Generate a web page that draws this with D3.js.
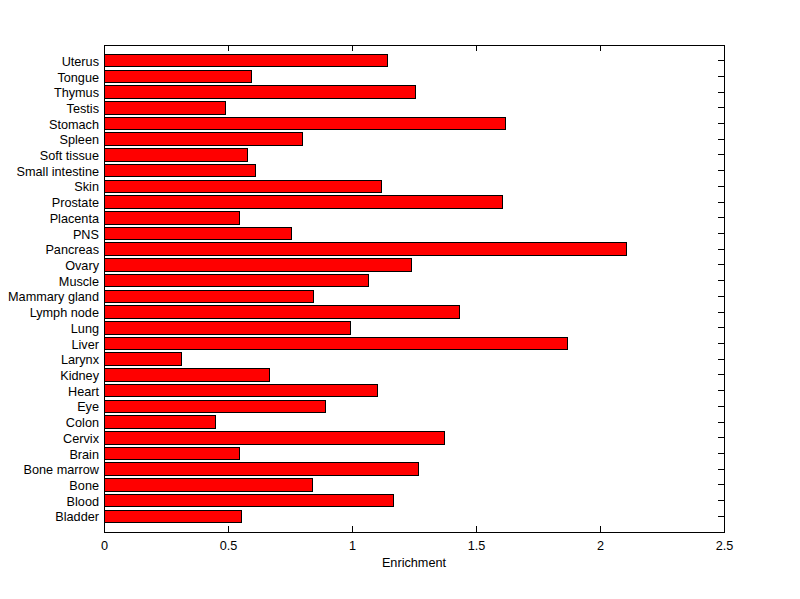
<!DOCTYPE html>
<html>
<head>
<meta charset="utf-8">
<script src="https://cdn.jsdelivr.net/npm/d3@7"></script>
<style>
  body { margin: 0; background: #fff; }
  svg { display: block; }
  text { font-family: "Liberation Sans", Arial, sans-serif; fill: #000; }
</style>
</head>
<body>
<div id="chart"></div>
<script>
"use strict";

// Tissues, bottom to top as drawn
const tissues = ["Bladder", "Blood", "Bone", "Bone marrow", "Brain", "Cervix", "Colon",
  "Eye", "Heart", "Kidney", "Larynx", "Liver", "Lung", "Lymph node", "Mammary gland",
  "Muscle", "Ovary", "Pancreas", "PNS", "Placenta", "Prostate", "Skin", "Small intestine",
  "Soft tissue", "Spleen", "Stomach", "Testis", "Thymus", "Tongue", "Uterus"];

const enrichment = [0.555, 1.167, 0.841, 1.269, 0.547, 1.373, 0.450,
  0.894, 1.103, 0.667, 0.313, 1.869, 0.994, 1.434, 0.845,
  1.067, 1.241, 2.107, 0.756, 0.547, 1.607, 1.119, 0.612,
  0.579, 0.800, 1.620, 0.490, 1.256, 0.595, 1.143];

const xTicks = [0, 0.5, 1, 1.5, 2, 2.5];
const xLabel = "Enrichment";

const width = 800, height = 599;
const mLeft = 104, mRight = 724, mTop = 45, mBottom = 532;
const tickLen = 6;
const fontSize = "12.7px";

let svg = d3.select("#chart").append("svg")
  .attr("width", width)
  .attr("height", height);

let x = d3.scaleLinear().domain([0, 2.5]).range([mLeft, mRight]);
let y = d3.scaleBand()
  .domain(tissues.slice().reverse())
  .range([mTop, mBottom])
  .paddingInner(0.2)
  .paddingOuter(0.6);

// Left axis labels (ticks hidden under bars)
let yAxis = svg.append("g")
  .attr("transform", "translate(" + mLeft + ",0)")
  .call(d3.axisLeft(y).tickSize(-tickLen).tickPadding(5));
yAxis.select(".domain").remove();
yAxis.selectAll("text")
  .attr("font-size", fontSize)
  .attr("font-family", "Liberation Sans, Arial, sans-serif")
  .attr("dy", "0.4em");
yAxis.selectAll("line").attr("shape-rendering", "crispEdges");

// Bars
svg.append("g").selectAll("rect")
  .data(tissues)
  .join("rect")
  .attr("x", x(0))
  .attr("y", (d) => y(d))
  .attr("width", (d, i) => x(enrichment[i]) - x(0))
  .attr("height", y.bandwidth())
  .attr("fill", "#ff0000")
  .attr("stroke", "#000")
  .attr("stroke-width", 1)
  .attr("shape-rendering", "crispEdges");

// Axis box
svg.append("rect")
  .attr("x", mLeft)
  .attr("y", mTop)
  .attr("width", mRight - mLeft)
  .attr("height", mBottom - mTop)
  .attr("fill", "none")
  .attr("stroke", "#000")
  .attr("shape-rendering", "crispEdges");

// Bottom axis: ticks point inward
let xAxis = svg.append("g")
  .attr("transform", "translate(0," + mBottom + ")")
  .call(d3.axisBottom(x).tickValues(xTicks).tickSize(-tickLen).tickPadding(tickLen + 3)
    .tickFormat(d3.format("")));
xAxis.select(".domain").remove();
xAxis.selectAll("text")
  .attr("font-size", fontSize)
  .attr("font-family", "Liberation Sans, Arial, sans-serif");
xAxis.selectAll("line").attr("shape-rendering", "crispEdges");

// Top ticks
svg.append("g").selectAll("line")
  .data(xTicks)
  .join("line")
  .attr("x1", (d) => x(d)).attr("x2", (d) => x(d))
  .attr("y1", mTop).attr("y2", mTop + tickLen)
  .attr("stroke", "#000")
  .attr("shape-rendering", "crispEdges");

// Right ticks
svg.append("g").selectAll("line")
  .data(tissues)
  .join("line")
  .attr("x1", mRight - tickLen).attr("x2", mRight)
  .attr("y1", (d) => y(d) + y.bandwidth() / 2)
  .attr("y2", (d) => y(d) + y.bandwidth() / 2)
  .attr("stroke", "#000")
  .attr("shape-rendering", "crispEdges");

// X label
svg.append("text")
  .attr("x", (mLeft + mRight) / 2)
  .attr("y", 567)
  .attr("text-anchor", "middle")
  .attr("font-size", fontSize)
  .text(xLabel);
</script>
</body>
</html>
